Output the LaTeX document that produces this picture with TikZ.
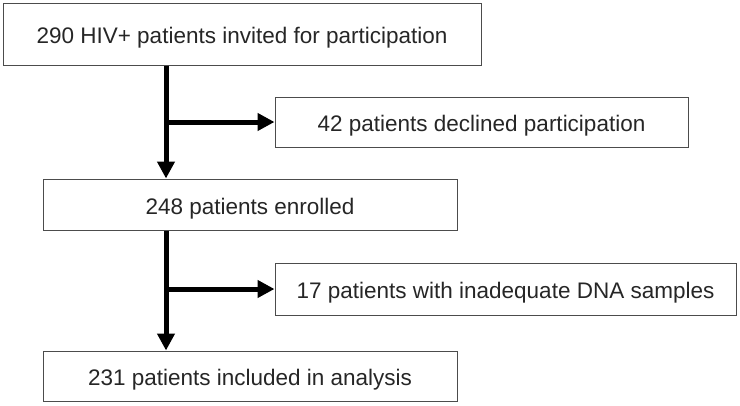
\documentclass[tikz,border=0pt]{standalone}
\usepackage{fontspec}
\setmainfont{Liberation Sans}
\usetikzlibrary{arrows.meta}
\begin{document}
\begin{tikzpicture}[x=1pt, y=-1pt,
                   box/.style = {draw=black!70, line width=1pt, inner sep=0pt, text=black!85,
                                 text height=19pt, text depth=0pt,
                                 font=\fontsize{22.5}{27}\selectfont},
                   flow/.style = {line width=5pt, -{Triangle[length=17pt,width=17pt]}}]
                   \useasboundingbox (0,0) rectangle (740,405);

                   \node[box, minimum width=478pt, minimum height=62pt] (invited)  at (242,34)    {290 HIV+ patients invited for participation};
                   \node[box, minimum width=413pt, minimum height=50pt] (declined) at (481.5,122) {42 patients declined participation};
                   \node[box, minimum width=414pt, minimum height=51pt] (enrolled) at (250,204.5) {248 patients enrolled};
                   \node[box, minimum width=461pt, minimum height=52pt] (inadeq)   at (505.5,289) {17 patients with inadequate DNA samples};
                   \node[box, minimum width=414pt, minimum height=50pt] (included) at (250,376)   {231 patients included in analysis};

                   \coordinate (split1) at (166,122);
                   \coordinate (split2) at (166,289);

                   \draw[flow] (invited.south -| split1) -- (enrolled.north -| split1);
                   \draw[flow] (split1) -- (declined.west);
                   \draw[flow] (enrolled.south -| split2) -- (included.north -| split2);
                   \draw[flow] (split2) -- (inadeq.west);
        \end{tikzpicture}
\end{document}
